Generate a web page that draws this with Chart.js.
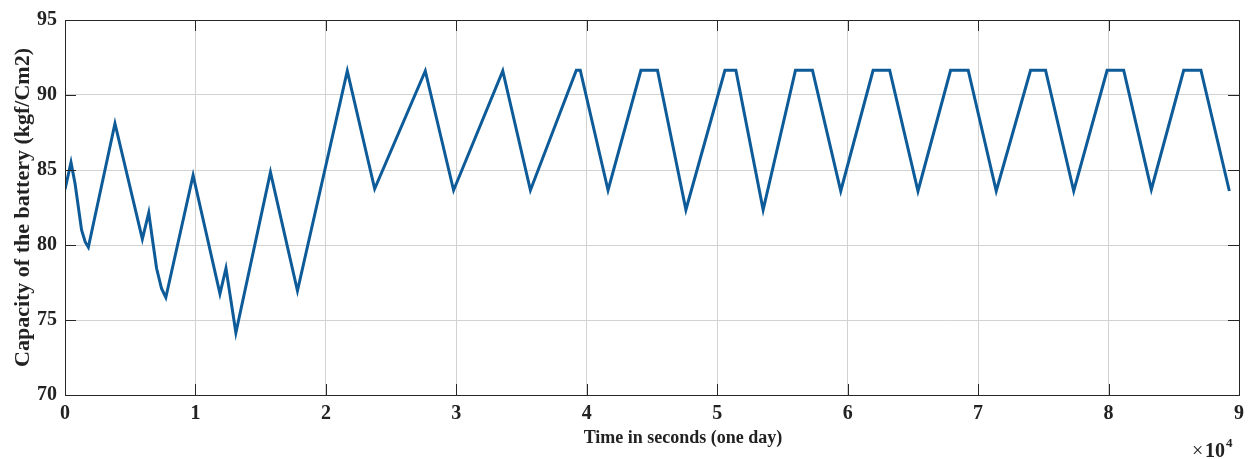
<!DOCTYPE html>
<html>
<head>
<meta charset="utf-8">
<script src="https://cdn.jsdelivr.net/npm/chart.js@4"></script>
<style>
  html, body { margin: 0; padding: 0; background: #fff; }
  #wrap { width: 1254px; height: 459px; }
</style>
</head>
<body>
<div id="wrap"><canvas id="batteryChart" width="1254" height="459"></canvas></div>
<script>
// time in seconds (one day) and battery capacity (kgf/Cm2)
const timeSeconds = [
  0, 460, 770, 1270, 1550, 1790, 3830, 5930, 6420, 6700, 7020, 7400, 7730,
  9820, 11880, 12340, 13100, 15750, 17820, 21640, 23740, 27620, 29790,
  33560, 35680, 39200, 39500, 41630, 44150, 45420, 47600, 50590, 51430,
  53520, 56000, 57300, 59470, 61950, 63220, 65390, 67890, 69240, 71390,
  74020, 75170, 77330, 79890, 81160, 83280, 85760, 87080, 89260
];
const capacity = [
  83.7, 85.5, 84.1, 81.0, 80.2, 79.85, 88.1, 80.4, 82.15, 80.4, 78.45, 77.1, 76.5,
  84.65, 76.75, 78.45, 74.15, 84.85, 76.95, 91.6, 83.75, 91.6, 83.65,
  91.6, 83.65, 91.65, 91.65, 83.65, 91.65, 91.65, 82.35, 91.65, 91.65,
  82.35, 91.65, 91.65, 83.6, 91.65, 91.65, 83.6, 91.65, 91.65, 83.6,
  91.65, 91.65, 83.6, 91.65, 91.65, 83.7, 91.65, 91.65, 83.6
];
const xTicks = [0, 1, 2, 3, 4, 5, 6, 7, 8, 9];   // x 10^4
const yTicks = [70, 75, 80, 85, 90, 95];
const xTitle = "Time in seconds (one day)";

const serif = "'Liberation Serif', 'Times New Roman', serif";
const lineColor = "#0d5b98";

// MATLAB-style box with inward ticks, x label and the x10^4 exponent
const boxPlugin = {
  id: "box",
  afterDraw(chart) {
    const { ctx, chartArea: a, scales } = chart;
    const len = 11;
    ctx.save();
    ctx.strokeStyle = "#262626";
    ctx.lineWidth = 1;
    ctx.beginPath();
    xTicks.forEach(t => {
      const px = Math.round(scales.x.getPixelForValue(t * 1e4)) + 0.5;
      ctx.moveTo(px, a.bottom); ctx.lineTo(px, a.bottom - len);
      ctx.moveTo(px, a.top); ctx.lineTo(px, a.top + len);
    });
    yTicks.forEach(t => {
      const py = Math.round(scales.y.getPixelForValue(t)) + 0.5;
      ctx.moveTo(a.left, py); ctx.lineTo(a.left + len, py);
      ctx.moveTo(a.right, py); ctx.lineTo(a.right - len, py);
    });
    ctx.stroke();
    ctx.strokeRect(Math.round(a.left) + 0.5, Math.round(a.top) + 0.5,
                   Math.round(a.right - a.left), Math.round(a.bottom - a.top));

    ctx.fillStyle = "#222";
    ctx.textBaseline = "middle";
    ctx.textAlign = "center";
    ctx.font = "bold 18px " + serif;
    ctx.fillText(xTitle, 683, 438);

    ctx.textBaseline = "alphabetic";
    ctx.textAlign = "left";
    ctx.font = "20px " + serif;
    ctx.fillText("\u00d7", 1192, 457);
    ctx.font = "bold 20px " + serif;
    ctx.fillText("10", 1205, 457);
    ctx.font = "bold 13px " + serif;
    ctx.fillText("4", 1226, 447);
    ctx.restore();
  }
};

new Chart(document.getElementById("batteryChart"), {
  type: "line",
  data: {
    datasets: [
      {
        label: "Capacity",
        data: timeSeconds.map((t, i) => ({ x: t, y: capacity[i] })),
        borderColor: lineColor,
        borderWidth: 3,
        pointRadius: 0,
        tension: 0,
        fill: false,
      },
    ],
  },
  options: {
    responsive: false,
    animation: false,
    layout: { padding: { top: 14, right: 15, left: 0, bottom: 0 } },
    plugins: {
      legend: { display: false },
      tooltip: { enabled: false },
    },
    scales: {
      x: {
        type: "linear",
        min: 0,
        max: 90000,
        afterBuildTicks: s => { s.ticks = xTicks.map(v => ({ value: v * 1e4 })); },
        afterFit: s => { s.height = 64; },
        ticks: {
          callback: v => String(v / 1e4),
          color: "#222",
          padding: 7,
          maxRotation: 0,
          font: { family: serif, size: 20, weight: "bold" },
        },
        grid: { color: "#d2d2d2", drawTicks: false },
        border: { display: false },
      },
      y: {
        min: 70,
        max: 95,
        afterBuildTicks: s => { s.ticks = yTicks.map(v => ({ value: v })); },
        afterFit: s => { s.width = 65; },
        ticks: {
          color: "#222",
          padding: 8,
          font: { family: serif, size: 20, weight: "bold" },
        },
        grid: { color: "#d2d2d2", drawTicks: false },
        border: { display: false },
        title: {
          display: true,
          text: "Capacity of the battery (kgf/Cm2)",
          color: "#222",
          padding: { top: 10, bottom: 0 },
          font: { family: serif, size: 22, weight: "bold" },
        },
      },
    },
  },
  plugins: [boxPlugin],
});
</script>
</body>
</html>
